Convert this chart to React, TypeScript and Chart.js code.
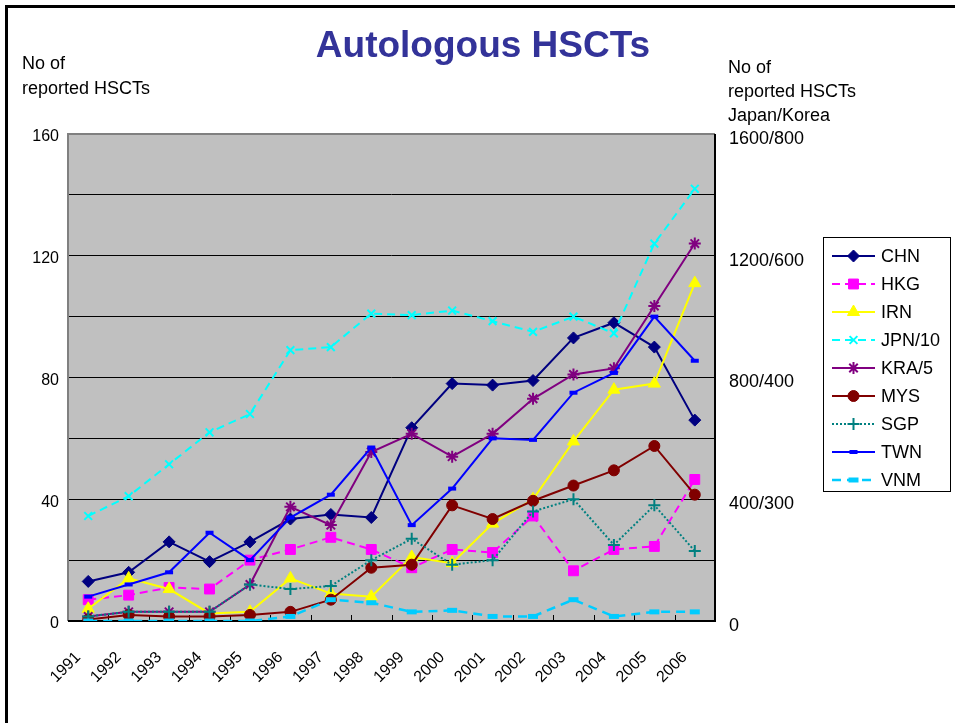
import React, { useEffect, useRef } from 'react';
import { Chart, registerables } from 'chart.js';
import * as helpers from 'chart.js/helpers';

Chart.register(...registerables);

const title = 'Autologous HSCTs';
const leftAxisTitle = ['No of', 'reported HSCTs'];
const rightAxisTitle = ['No of', 'reported HSCTs', 'Japan/Korea'];

const years = ['1991', '1992', '1993', '1994', '1995', '1996', '1997', '1998', '1999', '2000', '2001', '2002', '2003', '2004', '2005', '2006'];

const chn = [13, 16, 26, 19.5, 26, 33.5, 35, 34, 63.5, 78, 77.5, 79, 93, 98, 90, 66];
const hkg = [7, 8.5, 11, 10.5, 20, 23.5, 27.5, 23.5, 17.5, 23.5, 22.5, 34.5, 16.5, 23.5, 24.5, 46.5];
const irn = [4, 14, 10.5, 2.5, 3, 14, 9, 8, 21, 19, 32, 40, 59, 76, 78, 111];
const jpn10 = [34.5, 41, 51.5, 62, 68, 89, 90, 101, 100.5, 102, 98.5, 95, 100, 94.5, 124, 142];
const kra5 = [1.5, 3, 3, 3, 12, 37.5, 31.5, 55.5, 61.5, 54, 61.5, 73, 81, 83, 103.5, 124];
const mys = [0.5, 2, 1.5, 1.5, 2, 3, 7, 17.5, 18.5, 38, 33.5, 39.5, 44.5, 49.5, 57.5, 41.5];
const sgp = [1.5, 3, 3, 3, 12, 10.5, 11.5, 20, 27, 18.5, 20, 36, 40, 25, 38, 23];
const twn = [8, 12, 16, 29, 20, 34, 41.5, 57, 31.5, 43.5, 60, 59.5, 75, 81.5, 100, 85.5];
const vnm = [0, 0, 0, 0, 0, 1.5, 7, 6, 3, 3.5, 1.5, 1.5, 7, 1.5, 3, 3];

const leftTickLabels = ['0', '40', '80', '120', '160'];
const rightTickLabels = ['0', '400/300', '800/400', '1200/600', '1600/800'];

const FONT = '"Liberation Sans", Arial, sans-serif';

function mk(label: string, data: number[], color: string, style: string, radius: number, opts: any = {}) {
  return {
    label,
    data,
    borderColor: color,
    backgroundColor: color,
    pointBackgroundColor: color,
    pointBorderColor: color,
    pointStyle: style,
    pointRadius: radius,
    pointBorderWidth: opts.pbw ?? 1,
    borderWidth: opts.bw ?? 2,
    borderDash: opts.dash ?? [],
    tension: 0,
    fill: false,
  };
}

const framePlugin = {
  id: 'framePlugin',
  beforeDraw(chart: any) {
    const { ctx, chartArea: a } = chart;
    ctx.save();
    ctx.fillStyle = '#ffffff';
    ctx.fillRect(0, 0, chart.width, chart.height);
    ctx.fillStyle = '#C0C0C0';
    ctx.fillRect(a.left, a.top, a.right - a.left, a.bottom - a.top);
    ctx.restore();
  },
  beforeDatasetsDraw(chart: any) {
    const { ctx, chartArea: a } = chart;
    ctx.save();
    ctx.lineWidth = 2;
    ctx.strokeStyle = '#808080';
    ctx.beginPath();
    ctx.moveTo(a.left, a.bottom);
    ctx.lineTo(a.left, a.top);
    ctx.lineTo(a.right, a.top);
    ctx.stroke();
    ctx.strokeStyle = '#000000';
    ctx.beginPath();
    ctx.moveTo(a.right, a.top);
    ctx.lineTo(a.right, a.bottom);
    ctx.lineTo(a.left, a.bottom);
    ctx.stroke();
    ctx.lineWidth = 1;
    const n = years.length;
    const w = (a.right - a.left) / n;
    for (let k = 1; k < n; k++) {
      const x = Math.round(a.left + k * w) + 0.5;
      ctx.beginPath();
      ctx.moveTo(x, a.bottom);
      ctx.lineTo(x, a.bottom - 6);
      ctx.stroke();
    }
    ctx.restore();
  },
  afterDraw(chart: any) {
    const { ctx } = chart;
    ctx.save();
    ctx.fillStyle = '#000000';
    ctx.fillRect(5, 5, 3, chart.height - 5);
    ctx.fillRect(5, 5, chart.width - 5, 3);
    ctx.fillStyle = '#333399';
    ctx.font = 'bold 37px ' + FONT;
    ctx.textAlign = 'center';
    ctx.textBaseline = 'alphabetic';
    ctx.fillText(title, 483, 57);
    ctx.fillStyle = '#000000';
    ctx.font = '18px ' + FONT;
    ctx.textAlign = 'left';
    leftAxisTitle.forEach((t, i) => ctx.fillText(t, 22, 69 + i * 25));
    rightAxisTitle.forEach((t, i) => ctx.fillText(t, 728, 73 + i * 24));

    const lx = 823, ly = 237, lw = 127, lh = 254;
    ctx.fillStyle = '#ffffff';
    ctx.fillRect(lx, ly, lw, lh);
    chart.data.datasets.forEach((ds: any, i: number) => {
      const y = 256 + i * 28;
      ctx.save();
      ctx.strokeStyle = ds.borderColor;
      ctx.lineWidth = ds.borderWidth;
      ctx.setLineDash(ds.borderDash || []);
      ctx.beginPath();
      ctx.moveTo(832, y);
      ctx.lineTo(875, y);
      ctx.stroke();
      ctx.setLineDash([]);
      ctx.fillStyle = ds.pointBackgroundColor;
      ctx.strokeStyle = ds.pointBorderColor;
      ctx.lineWidth = ds.pointBorderWidth;
      helpers.drawPoint(ctx, { pointStyle: ds.pointStyle, rotation: 0, radius: ds.pointRadius, borderWidth: ds.pointBorderWidth }, 853.5, y);
      ctx.restore();
      ctx.fillStyle = '#000000';
      ctx.font = '18px ' + FONT;
      ctx.textAlign = 'left';
      ctx.textBaseline = 'middle';
      ctx.fillText(ds.label, 881, y + 1);
    });
    ctx.strokeStyle = '#000000';
    ctx.lineWidth = 1;
    ctx.strokeRect(lx + 0.5, ly + 0.5, lw, lh);
    ctx.restore();
  },
};

export default function App() {
  const ref = useRef<HTMLCanvasElement | null>(null);
  useEffect(() => {
    document.body.style.margin = '0';
    const canvas = ref.current!;
    const datasets = [
      mk('CHN', chn, '#000080', 'rectRot', 6),
      mk('HKG', hkg, '#FF00FF', 'rect', 7, { dash: [8, 5] }),
      mk('IRN', irn, '#FFFF00', 'triangle', 7),
      mk('JPN/10', jpn10, '#00FFFF', 'crossRot', 5.5, { dash: [8, 5], pbw: 2 }),
      mk('KRA/5', kra5, '#800080', 'star', 6, { pbw: 2 }),
      mk('MYS', mys, '#800000', 'circle', 5.5),
      mk('SGP', sgp, '#008080', 'cross', 6, { dash: [2, 2], pbw: 2 }),
      mk('TWN', twn, '#0000FF', 'line', 4, { pbw: 4 }),
      mk('VNM', vnm, '#00CCFF', 'line', 5, { dash: [9, 6], pbw: 5, bw: 2.5 }),
    ].map((d, i, arr) => ({ ...d, order: arr.length - i }));

    const chart = new Chart(canvas, {
      type: 'line',
      data: { labels: years, datasets },
      options: {
        responsive: false,
        animation: false,
        devicePixelRatio: 1,
        layout: { padding: { top: 134, left: 0, right: 0, bottom: 0 } },
        plugins: { legend: { display: false }, tooltip: { enabled: false }, title: { display: false } },
        scales: {
          x: {
            type: 'category',
            offset: true,
            grid: { display: false, drawTicks: false },
            border: { display: false },
            ticks: {
              autoSkip: false,
              maxRotation: 45,
              minRotation: 45,
              padding: 27,
              labelOffset: -10,
              color: '#000000',
              font: { family: FONT, size: 16 },
            },
            afterFit: (s: any) => { s.height = 102; },
          },
          y: {
            position: 'left',
            min: 0,
            max: 160,
            grid: { color: '#000000', lineWidth: 1, drawTicks: false },
            border: { display: false },
            ticks: {
              stepSize: 20,
              padding: 9,
              labelOffset: 3,
              color: '#000000',
              font: { family: FONT, size: 16 },
              callback: (v: any) => (v % 40 === 0 ? leftTickLabels[v / 40] : ''),
            },
            afterFit: (s: any) => { s.width = 68; },
          },
          y1: {
            position: 'right',
            min: 0,
            max: 160,
            grid: { drawOnChartArea: false, drawTicks: false },
            border: { display: false },
            ticks: {
              stepSize: 40,
              padding: 14,
              labelOffset: 5,
              color: '#000000',
              font: { family: FONT, size: 18 },
              callback: (v: any) => rightTickLabels[Math.round(v / 40)],
            },
            afterFit: (s: any) => { s.width = 240; },
          },
        },
      },
      plugins: [framePlugin],
    });
    return () => chart.destroy();
  }, []);
  return (
    <div style={{ width: 955, height: 723, position: 'relative' }}>
      <canvas ref={ref} width={955} height={723} style={{ display: 'block' }} />
    </div>
  );
}
